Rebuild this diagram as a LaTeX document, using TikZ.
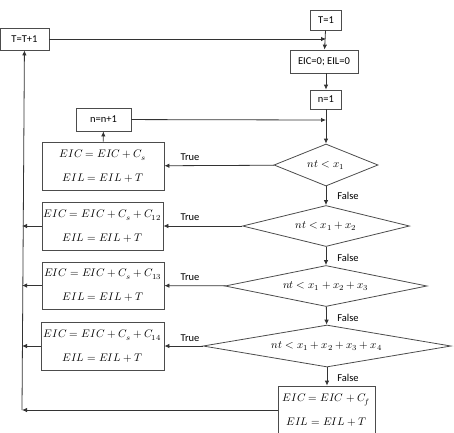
\documentclass[tikz,border=0pt]{standalone}
\usepackage{fontspec}
\setmainfont{Carlito}
\usepackage{unicode-math}
\setmathfont{Latin Modern Math}
\usetikzlibrary{shapes.geometric,arrows.meta}
\begin{document}
\begin{tikzpicture}[x=1pt,y=-1pt,
  every node/.style={font=\fontsize{10.5}{12}\selectfont},
  box/.style={draw=black!70, line width=0.8pt, rectangle, inner sep=0pt},
  mbox/.style={box, align=center, font=\fontsize{11}{13}\selectfont},
  dia/.style={draw=black!70, line width=0.8pt, diamond, inner sep=0pt, font=\fontsize{11}{13}\selectfont},
  conn/.style={draw=black!80, line width=0.8pt, -{Latex[length=5pt,width=4.5pt]}},
  plain/.style={draw=black!80, line width=0.8pt},
  lab/.style={font=\fontsize{10.5}{12}\selectfont, inner sep=0pt}]
\useasboundingbox (0,0) rectangle (454,432);
% nodes
\node[box, minimum width=31pt, minimum height=20pt] (T1) at (326,20) {T=1};
\node[box, minimum width=49pt, minimum height=22pt] (TT) at (24.5,39) {T=T+1};
\node[box, minimum width=68pt, minimum height=23pt] (E0) at (324,61.5) {EIC=0; EIL=0};
\node[box, minimum width=31pt, minimum height=19pt] (N1) at (326,99.5) {n=1};
\node[box, minimum width=55pt, minimum height=23pt] (NN) at (103.5,119.5) {n=n+1};
\node[dia, minimum width=104pt, minimum height=42pt, aspect=2.48] (D1) at (326,165) {$nt<x_1$};
\node[dia, minimum width=167pt, minimum height=41pt, aspect=4.07] (D2) at (326,226) {$nt<x_1+x_2$};
\node[dia, minimum width=202pt, minimum height=41pt, aspect=4.9] (D3) at (326,286) {$nt<x_1+x_2+x_3$};
\node[dia, minimum width=248pt, minimum height=42pt, aspect=5.9] (D4) at (327,346) {$nt<x_1+x_2+x_3+x_4$};
\node[mbox, minimum width=122pt, minimum height=48pt] (B1) at (103,166) {$EIC=EIC+C_s$\\[11pt]$EIL=EIL+T$};
\node[mbox, minimum width=121pt, minimum height=48pt] (B2) at (102.5,226) {$EIC=EIC+C_s+C_{12}$\\[11pt]$EIL=EIL+T$};
\node[mbox, minimum width=122pt, minimum height=47pt] (B3) at (103,285.5) {$EIC=EIC+C_s+C_{13}$\\[11pt]$EIL=EIL+T$};
\node[mbox, minimum width=123pt, minimum height=48pt] (B4) at (102.5,346) {$EIC=EIC+C_s+C_{14}$\\[11pt]$EIL=EIL+T$};
\node[mbox, minimum width=97pt, minimum height=48pt] (BF) at (326.5,410) {$EIC=EIC+C_f$\\[11pt]$EIL=EIL+T$};
% coordinates
\coordinate (J1) at (326,39);
\coordinate (J2) at (326,120);
\coordinate (L2) at (22,226);
\coordinate (L3) at (22,285.5);
\coordinate (L4) at (22,346);
\coordinate (LF) at (22,410);
\coordinate (LT) at (22,50);
% connectors
\draw[conn] (T1) -- (E0);
\draw[conn] (TT) -- (J1);
\draw[conn] (E0.south -| N1) -- (N1);
\draw[conn] (N1) -- (D1);
\draw[conn] (NN) -- (J2);
\draw[conn] (D1) -- (B1);
\draw[conn] (B1) -- (NN);
\draw[conn] (D2) -- (B2);
\draw[conn] (D3) -- (B3);
\draw[conn] (D4) -- (B4);
\draw[conn] (D1) -- (D2);
\draw[conn] (D2) -- (D3);
\draw[conn] (D3) -- (D4);
\draw[conn] (D4.south) -- (BF.north -| D4.south);
\draw[conn] (B2) -- (L2);
\draw[conn] (B3) -- (L3);
\draw[conn] (B4) -- (L4);
\draw[conn] (BF) -- (LF);
\draw[conn] (LF) -- (TT);
% labels
\node[lab] (t1) at (190,157) {True};
\node[lab] (t2) at (190,217) {True};
\node[lab] (t3) at (190,277) {True};
\node[lab] (t4) at (190,338) {True};
\node[lab] (f1) at (348,196) {False};
\node[lab] (f2) at (348,258) {False};
\node[lab] (f3) at (348,318) {False};
\node[lab] (f4) at (348,378) {False};
\end{tikzpicture}
\end{document}
